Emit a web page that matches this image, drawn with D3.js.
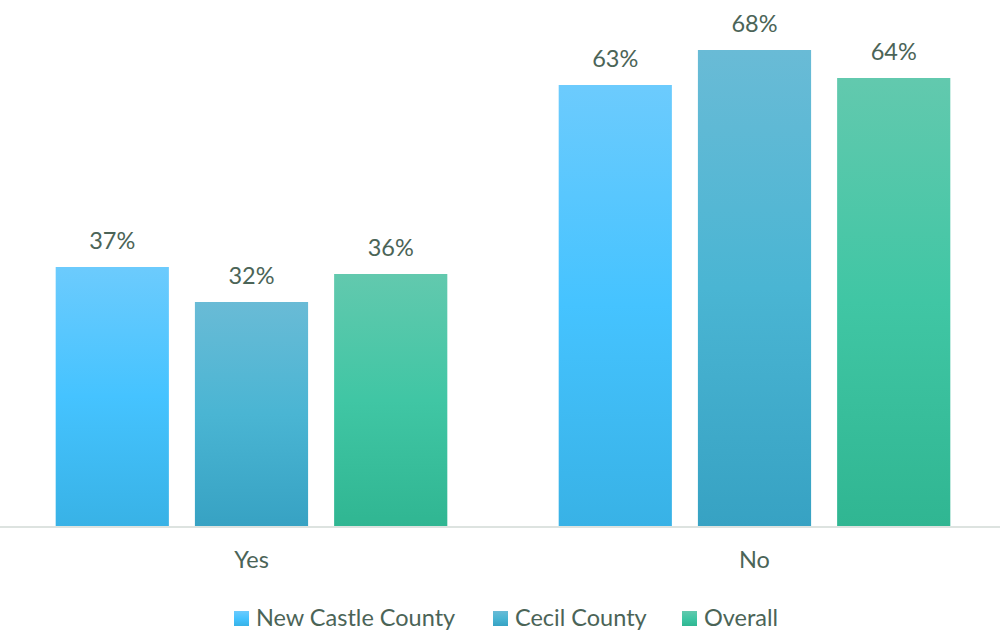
<!DOCTYPE html>
<html>
<head>
<meta charset="utf-8">
<script src="https://cdn.jsdelivr.net/npm/d3@7"></script>
<style>
  html, body { margin: 0; padding: 0; background: #fff; }
  svg { display: block; font-family: Lato, "Open Sans", sans-serif; }
</style>
</head>
<body>
<svg id="chart" width="1000" height="634"></svg>
<script>
const categories = ["Yes", "No"];
const seriesNames = ["New Castle County", "Cecil County", "Overall"];
const newCastle = [37, 63];
const cecil = [32, 68];
const overall = [36, 64];
const seriesValues = [newCastle, cecil, overall];

const gradients = [
  ["#6ccbfd", "#45c3ff", "#38b2e6"],
  ["#69bbd6", "#4ab5d3", "#37a2c3"],
  ["#62c9ae", "#40c6a4", "#30b692"]
];
const textColor = "#4b6457";
const fontSize = 23.5;

const svg = d3.select("#chart");
const defs = svg.append("defs");
gradients.forEach((g, i) => {
  const lg = defs.append("linearGradient").attr("id", "grad" + i)
    .attr("x1", 0).attr("y1", 0).attr("x2", 0).attr("y2", 1);
  lg.append("stop").attr("offset", "0%").attr("stop-color", g[0]);
  lg.append("stop").attr("offset", "50%").attr("stop-color", g[1]);
  lg.append("stop").attr("offset", "100%").attr("stop-color", g[2]);
});

const x0 = d3.scaleBand().domain(categories).range([0, 1006]).padding(0);
const x1 = d3.scaleBand().domain(seriesNames).range([0, x0.bandwidth()])
  .paddingInner(0.187).paddingOuter(0.4);
const y = d3.scaleLinear().domain([0, 75]).range([526, 1]);

const data = [];
categories.forEach((c, ci) => {
  seriesNames.forEach((s, si) => {
    data.push({ cat: c, series: s, si: si, value: seriesValues[si][ci] });
  });
});

// axis
const axis = svg.append("g").attr("transform", "translate(0,527)")
  .call(d3.axisBottom(x0).tickSize(0));
axis.select(".domain").attr("stroke", "#dde3e0").attr("stroke-width", 2)
  .attr("d", "M0,0H1000");
axis.selectAll(".tick text")
  .attr("y", 41).attr("dy", 0)
  .attr("fill", textColor)
  .style("font-size", fontSize + "px")
  .style("font-family", "Lato, 'Open Sans', sans-serif");

// bars
svg.append("g").selectAll("rect").data(data).join("rect")
  .attr("x", d => x0(d.cat) + x1(d.series))
  .attr("y", d => y(d.value))
  .attr("width", x1.bandwidth())
  .attr("height", d => y(0) - y(d.value))
  .attr("fill", d => `url(#grad${d.si})`);

// labels
svg.append("g").selectAll("text").data(data).join("text")
  .attr("x", d => x0(d.cat) + x1(d.series) + x1.bandwidth() / 2)
  .attr("y", d => y(d.value) - 18)
  .attr("text-anchor", "middle")
  .attr("fill", textColor)
  .style("font-size", fontSize + "px")
  .text(d => d.value + "%");

// legend
const legendX = [234, 493, 682];
const lg = svg.append("g");
seriesNames.forEach((s, i) => {
  lg.append("rect").attr("x", legendX[i]).attr("y", 611).attr("width", 15).attr("height", 15)
    .attr("fill", `url(#grad${i})`);
  lg.append("text").attr("x", legendX[i] + 22).attr("y", 625.5)
    .attr("fill", textColor).style("font-size", fontSize + "px").text(s);
});
</script>
</body>
</html>
